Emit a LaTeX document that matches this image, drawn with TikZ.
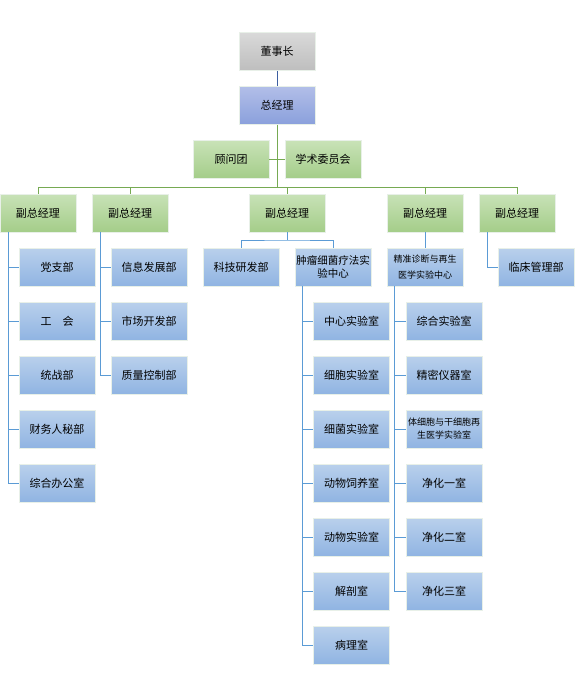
\documentclass[tikz,border=0pt]{standalone}
\usepackage{fontspec}
\newfontfamily\cjk{Noto Sans CJK SC}
\definecolor{grayT}{RGB}{217,217,217}
\definecolor{grayB}{RGB}{190,190,190}
\definecolor{purT}{RGB}{178,190,232}
\definecolor{purB}{RGB}{138,160,220}
\definecolor{grnT}{RGB}{200,226,183}
\definecolor{grnB}{RGB}{164,205,137}
\definecolor{bluT}{RGB}{185,208,236}
\definecolor{bluB}{RGB}{144,180,226}
\definecolor{boxedge}{RGB}{232,240,232}
\definecolor{lineG}{RGB}{118,170,82}
\definecolor{lineB}{RGB}{91,155,213}
\definecolor{lineD}{RGB}{60,95,160}
\begin{document}
\begin{tikzpicture}[x=1pt,y=-1pt,
  box/.style={minimum width=76pt,minimum height=38pt,inner sep=0pt,draw=boxedge,line width=0.8pt,
    align=center,font=\cjk\fontsize{11}{13}\selectfont},
  graybox/.style={box,top color=grayT,bottom color=grayB},
  purbox/.style={box,top color=purT,bottom color=purB},
  grnbox/.style={box,top color=grnT,bottom color=grnB},
  blubox/.style={box,top color=bluT,bottom color=bluB},
  gline/.style={draw=lineG,line width=1pt},
  bline/.style={draw=lineB,line width=1pt}]

\useasboundingbox (0,0) rectangle (574,686);

% Top
\node[graybox] (dsz) at (277,51.5) {董事长};
\node[purbox] (zjl) at (277,105.5) {总经理};
\node[grnbox] (gwt) at (231,159.5) {顾问团};
\node[grnbox] (xsw) at (323,159.5) {学术委员会};

% Vice managers
\node[grnbox] (vp1) at (38,213) {副总经理};
\node[grnbox] (vp2) at (130,213) {副总经理};
\node[grnbox] (vp3) at (287,213) {副总经理};
\node[grnbox] (vp4) at (425,213) {副总经理};
\node[grnbox] (vp5) at (517,213) {副总经理};

% Departments
\node[blubox] (dzb) at (57,267) {党支部};
\node[blubox] (gh) at (57,321) {工\hspace{1em}会};
\node[blubox] (tzb) at (57,375) {统战部};
\node[blubox] (cwb) at (57,429) {财务人秘部};
\node[blubox] (zhb) at (57,483) {综合办公室};

\node[blubox] (xxb) at (149,267) {信息发展部};
\node[blubox] (scb) at (149,321) {市场开发部};
\node[blubox] (zlb) at (149,375) {质量控制部};

\node[blubox] (kjb) at (241,267) {科技研发部};
\node[blubox,font=\cjk\fontsize{10.5}{13.5}\selectfont] (zlzx) at (333,267) {肿瘤细菌疗法实\\验中心};
\node[blubox,font=\cjk\fontsize{9}{16}\selectfont] (jzzx) at (425,267) {精准诊断与再生\\医学实验中心};
\node[blubox] (lcb) at (536,267) {临床管理部};

% Labs
\node[blubox] (zxs) at (351.5,321) {中心实验室};
\node[blubox] (xbs) at (351.5,375) {细胞实验室};
\node[blubox] (xjs) at (351.5,429) {细菌实验室};
\node[blubox] (dws) at (351.5,483) {动物饲养室};
\node[blubox] (dys) at (351.5,537) {动物实验室};
\node[blubox] (jps) at (351.5,591) {解剖室};
\node[blubox] (bls) at (351.5,645) {病理室};

\node[blubox] (zhs) at (444,321) {综合实验室};
\node[blubox] (jms) at (444,375) {精密仪器室};
\node[blubox,font=\cjk\fontsize{9}{13}\selectfont] (txs) at (444,429) {体细胞与干细胞再\\生医学实验室};
\node[blubox] (jh1) at (444,483) {净化一室};
\node[blubox] (jh2) at (444,537) {净化二室};
\node[blubox] (jh3) at (444,591) {净化三室};

% Connectors
\coordinate (bus) at (277,187);
\coordinate (c1) at (8,232);
\coordinate (c2) at (100,232);
\coordinate (c3) at (287,240);
\coordinate (c5) at (487,232);
\coordinate (c6) at (302,286);
\coordinate (c7) at (394,286);

\draw[draw=lineD,line width=1pt] (dsz) -- (zjl);
\draw[gline] (zjl.south) -- (bus);
\draw[gline] (gwt.east) -- (xsw.west);
\draw[gline] (vp1.north) -- (vp1.north |- bus) -- (vp5.north |- bus) -- (vp5.north);
\foreach \n in {vp2,vp3,vp4}
  \draw[gline] (\n.north) -- (\n.north |- bus);

\foreach \n in {dzb,gh,tzb,cwb,zhb}
  \draw[bline] (c1) |- (\n.west);
\foreach \n in {xxb,scb,zlb}
  \draw[bline] (c2) |- (\n.west);
\draw[bline] (vp3.south) -- (c3);
\draw[bline] (kjb.north) |- (c3) -| (zlzx.north);
\draw[bline] (vp4.south) -- (jzzx.north);
\draw[bline] (c5) |- (lcb.west);
\foreach \n in {zxs,xbs,xjs,dws,dys,jps,bls}
  \draw[bline] (c6) |- (\n.west);
\foreach \n in {zhs,jms,txs,jh1,jh2,jh3}
  \draw[bline] (c7) |- (\n.west);

\end{tikzpicture}
\end{document}
